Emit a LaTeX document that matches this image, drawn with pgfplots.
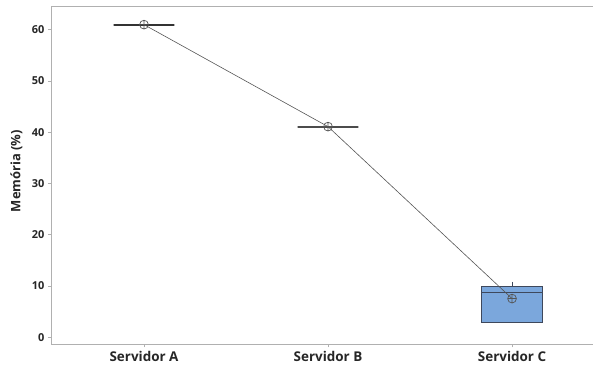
\documentclass[border=0pt]{standalone}
\usepackage{pgfplots}
\pgfplotsset{compat=1.18}
\usepgfplotslibrary{statistics}
\usetikzlibrary{calc}
\usepackage{fontspec}
\setmainfont{Open Sans}

\definecolor{boxfill}{RGB}{123,167,220}
\definecolor{boxedge}{RGB}{62,72,92}
\definecolor{framegray}{RGB}{176,176,176}
\definecolor{meangray}{RGB}{85,85,85}

\begin{document}
\begin{tikzpicture}
\begin{axis}[
  scale only axis,
  width=542bp, height=337.6bp,
  xmin=0.4946, xmax=3.44,
  ymin=-1.37, ymax=64.5,
  axis line style={draw=none},
  xtick={1,2,3},
  xticklabels={Servidor A, Servidor B, Servidor C},
  ytick={0,10,...,60},
  tick align=outside,
  tick style={framegray, line width=0.6pt},
  major tick length=3bp,
  xtick pos=bottom, ytick pos=left,
  x tick label style={font=\bfseries\fontsize{13.5}{15}\selectfont, text=black!85},
  y tick label style={font=\bfseries\fontsize{11}{13}\selectfont, text=black!85},
  /pgf/number format/assume math mode=true,
  ylabel={Memória (\%)},
  every axis y label/.style={at={(axis description cs:-0.064,0.513)}, rotate=90,
    anchor=center, font=\bfseries\fontsize{13}{15}\selectfont, text=black!85},
  boxplot/draw direction=y,
  boxplot/box extend=0.33,
  boxplot/whisker extend=0,
]
% Servidor A and B: all values equal, the box collapses to a line
\addplot+[boxplot prepared={draw position=1,
    lower whisker=61, lower quartile=61, median=61,
    upper quartile=61, upper whisker=61,
    every median/.style={line width=1.8pt, draw=black!80},
    every box/.style={line width=1.8pt, draw=black!80}},
  draw=black!80, line width=1.8pt, fill=none, solid, mark=none]
  coordinates {};
\addplot+[boxplot prepared={draw position=2,
    lower whisker=41.1, lower quartile=41.1, median=41.1,
    upper quartile=41.1, upper whisker=41.1,
    every median/.style={line width=1.8pt, draw=black!70},
    every box/.style={line width=1.8pt, draw=black!70}},
  draw=black!70, line width=1.8pt, fill=none, solid, mark=none]
  coordinates {};
% Servidor C
\addplot+[boxplot prepared={draw position=3,
    lower whisker=2.85, lower quartile=2.85, median=8.8,
    upper quartile=9.9, upper whisker=10.85},
  draw=boxedge, line width=0.7pt, fill=boxfill, solid, mark=none]
  coordinates {};
% means connected
\addplot[meangray, line width=0.6pt, mark=oplus, mark size=4.4bp,
  mark options={meangray, line width=0.7pt, fill=none}]
  coordinates {(1,61) (2,41.1) (3,7.55)};
% frame
\draw[framegray, line width=1pt] (rel axis cs:1,1) -- (rel axis cs:0,1)
  -- (rel axis cs:0,0) -- (rel axis cs:1,0);
\end{axis}
\pgfresetboundingbox
\path ($(current axis.south west)+(-51bp,-22.7bp)$) rectangle
  ($(current axis.north east)+(0,6.7bp)$);
\end{tikzpicture}
\end{document}
